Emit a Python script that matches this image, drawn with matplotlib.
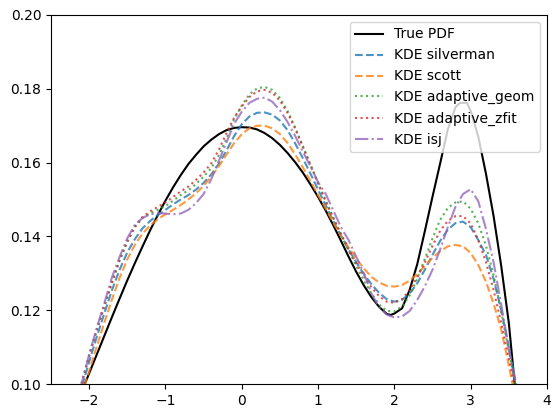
import numpy as np
import matplotlib
matplotlib.use("Agg")
import matplotlib.pyplot as plt

x_true = [-2.1, -2.0, -1.9, -1.8, -1.7, -1.6, -1.5, -1.4, -1.3, -1.2, -1.1, -1.0,
          -0.9, -0.8, -0.7, -0.6, -0.5, -0.4, -0.3, -0.2, -0.1, 0.0, 0.1, 0.2,
          0.3, 0.4, 0.5, 0.6, 0.7, 0.8, 0.9, 1.0, 1.1, 1.2, 1.3, 1.4, 1.5, 1.6,
          1.7, 1.8, 1.9, 1.95, 2.0, 2.1, 2.2, 2.3, 2.4, 2.5, 2.6, 2.7, 2.8, 2.86,
          2.95, 3.0, 3.1, 3.2, 3.3, 3.4, 3.5, 3.6]
y_true = [0.0978, 0.1029, 0.1080, 0.1131, 0.1182, 0.1232, 0.1281, 0.1328, 0.1373,
          0.1417, 0.1458, 0.1497, 0.1533, 0.1566, 0.1596, 0.1621, 0.1644, 0.1662,
          0.1677, 0.1688, 0.1694, 0.1696, 0.1695, 0.1690, 0.1680, 0.1666, 0.1648,
          0.1626, 0.1601, 0.1573, 0.1541, 0.1507, 0.1470, 0.1430, 0.1388, 0.1345,
          0.1304, 0.1267, 0.1235, 0.1209, 0.1190, 0.1187, 0.1191, 0.1205, 0.1255,
          0.1325, 0.1415, 0.1508, 0.1598, 0.1690, 0.1750, 0.1762, 0.1762, 0.1740,
          0.1670, 0.1570, 0.1455, 0.1320, 0.1165, 0.0950]

x_kde = [-2.2, -2.1, -2.0, -1.9, -1.8, -1.7, -1.6, -1.5, -1.4, -1.3, -1.2, -1.1,
         -1.0, -0.9, -0.8, -0.7, -0.6, -0.5, -0.4, -0.3, -0.2, -0.1, 0.0, 0.1,
         0.2, 0.3, 0.4, 0.5, 0.6, 0.7, 0.8, 0.9, 1.0, 1.1, 1.2, 1.3, 1.4, 1.5,
         1.6, 1.7, 1.8, 1.9, 2.0, 2.1, 2.2, 2.3, 2.4, 2.5, 2.6, 2.7, 2.8, 2.9,
         3.0, 3.1, 3.2, 3.3, 3.4, 3.5, 3.6, 3.7]

y_silverman = [0.094, 0.0990, 0.1060, 0.1128, 0.1192, 0.1255, 0.1310, 0.1357, 0.1393,
               0.1422, 0.1442, 0.1458, 0.1472, 0.1487, 0.1500, 0.1512, 0.1527, 0.1545,
               0.1568, 0.1597, 0.1633, 0.1672, 0.1704, 0.1725, 0.1735, 0.1736, 0.1730,
               0.1714, 0.1688, 0.1652, 0.1612, 0.1570, 0.1527, 0.1484, 0.1442, 0.1402,
               0.1364, 0.1330, 0.1298, 0.1270, 0.1247, 0.1230, 0.1223, 0.1228, 0.1245,
               0.1273, 0.1310, 0.1350, 0.1388, 0.1418, 0.1436, 0.1440, 0.1425, 0.1390,
               0.1350, 0.1285, 0.1200, 0.1100, 0.0995, 0.089]

y_scott = [0.091, 0.0970, 0.1035, 0.1102, 0.1167, 0.1230, 0.1288, 0.1338, 0.1378,
           0.1408, 0.1430, 0.1447, 0.1460, 0.1472, 0.1485, 0.1500, 0.1517, 0.1537,
           0.1562, 0.1590, 0.1622, 0.1653, 0.1677, 0.1693, 0.1700, 0.1700, 0.1693,
           0.1677, 0.1653, 0.1622, 0.1587, 0.1550, 0.1512, 0.1475, 0.1437, 0.1402,
           0.1370, 0.1340, 0.1313, 0.1290, 0.1275, 0.1266, 0.1264, 0.1268, 0.1280,
           0.1298, 0.1320, 0.1342, 0.1360, 0.1373, 0.1377, 0.1373, 0.1355, 0.1322,
           0.1277, 0.1218, 0.1148, 0.1050, 0.0945, 0.085]

y_geom = [0.093, 0.1000, 0.1075, 0.1145, 0.1210, 0.1275, 0.1335, 0.1385, 0.1425,
          0.1450, 0.1463, 0.1472, 0.1482, 0.1497, 0.1512, 0.1525, 0.1542, 0.1562,
          0.1585, 0.1620, 0.1665, 0.1718, 0.1755, 0.1785, 0.1801, 0.1805, 0.1797,
          0.1775, 0.1740, 0.1695, 0.1645, 0.1595, 0.1545, 0.1497, 0.1450, 0.1405,
          0.1362, 0.1320, 0.1280, 0.1245, 0.1215, 0.1198, 0.1197, 0.1210, 0.1240,
          0.1285, 0.1340, 0.1395, 0.1445, 0.1477, 0.1492, 0.1495, 0.1475, 0.1435,
          0.1375, 0.1295, 0.1195, 0.1090, 0.0980, 0.088]

y_zfit = [0.093, 0.1002, 0.1078, 0.1148, 0.1213, 0.1278, 0.1337, 0.1387, 0.1427,
          0.1453, 0.1468, 0.1480, 0.1492, 0.1507, 0.1522, 0.1535, 0.1553, 0.1573,
          0.1598, 0.1635, 0.1680, 0.1722, 0.1752, 0.1778, 0.1793, 0.1797, 0.1789,
          0.1768, 0.1735, 0.1692, 0.1643, 0.1593, 0.1543, 0.1495, 0.1450, 0.1407,
          0.1365, 0.1327, 0.1292, 0.1262, 0.1238, 0.1223, 0.1220, 0.1230, 0.1255,
          0.1290, 0.1330, 0.1375, 0.1415, 0.1442, 0.1455, 0.1455, 0.1435, 0.1390,
          0.1330, 0.1255, 0.1165, 0.1070, 0.0970, 0.087]

y_isj = [0.093, 0.1000, 0.1080, 0.1152, 0.1220, 0.1290, 0.1345, 0.1395, 0.1432,
         0.1450, 0.1460, 0.1463, 0.1462, 0.1460, 0.1462, 0.1472, 0.1490, 0.1515,
         0.1555, 0.1605, 0.1655, 0.1705, 0.1738, 0.1762, 0.1773, 0.1776, 0.1765,
         0.1742, 0.1710, 0.1672, 0.1630, 0.1590, 0.1547, 0.1515, 0.1470, 0.1425,
         0.1390, 0.1345, 0.1300, 0.1245, 0.1208, 0.1188, 0.1180, 0.1183, 0.1198,
         0.1228, 0.1265, 0.1310, 0.1365, 0.1425, 0.1480, 0.1515, 0.1528, 0.1495,
         0.1420, 0.1330, 0.1215, 0.1095, 0.0990, 0.088]

labels = ["True PDF", "KDE silverman", "KDE scott", "KDE adaptive_geom",
          "KDE adaptive_zfit", "KDE isj"]

fig = plt.figure(figsize=(5.6, 4.18), dpi=100)
ax = fig.add_axes([51 / 560, 34 / 418, 496 / 560, 369 / 418])

ax.plot(x_true, y_true, color="black", lw=1.5, label=labels[0])
ax.plot(x_kde, y_silverman, color="tab:blue", ls="--", alpha=0.8, label=labels[1])
ax.plot(x_kde, y_scott, color="tab:orange", ls="--", alpha=0.8, label=labels[2])
ax.plot(x_kde, y_geom, color="tab:green", ls=":", alpha=0.8, label=labels[3])
ax.plot(x_kde, y_zfit, color="tab:red", ls=":", alpha=0.8, label=labels[4])
ax.plot(x_kde, y_isj, color="tab:purple", ls="-.", alpha=0.8, label=labels[5])

ax.set_xlim(-2.5, 4)
ax.set_ylim(0.1, 0.2)
ax.legend(loc="upper right")

fig.savefig("out.png", dpi=100)
